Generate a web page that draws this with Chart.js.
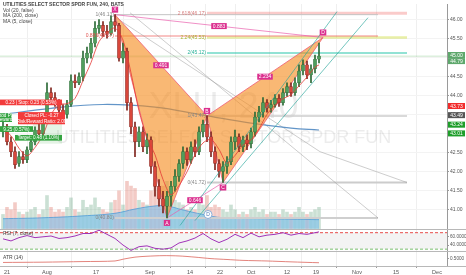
<!DOCTYPE html>
<html>
<head>
<meta charset="utf-8">
<script src="https://cdn.jsdelivr.net/npm/chart.js@4.4.0/dist/chart.umd.min.js"></script>
<style>
  html, body { margin: 0; padding: 0; background: #fff; }
  canvas { display: block; }
</style>
</head>
<body>
<canvas id="chart" width="466" height="275"></canvas>
<script>
// ---- data (bar index on x, one candle per index) ----
const opens = [43.05,43.18,42.79,42.53,42.22,42.40,42.32,42.58,42.79,43.10, 43.00,43.36,44.08,43.95,43.82,43.62,43.51,43.77,44.39,44.34,
  44.50,44.99,45.12,45.38,45.77,45.85,45.69,45.64,45.95,45.85, 44.99,45.17,43.82,43.18,42.79,43.05,42.66,42.84,42.14,41.62,
  41.29,41.10,41.36,41.62,41.88,42.22,42.53,42.32,42.66,42.53, 43.05,43.25,42.92,42.53,42.22,42.01,42.14,42.27,42.79,42.92,
  42.66,42.84,42.74,43.05,43.44,43.57,43.82,43.67,43.77,43.93, 43.82,44.08,44.24,44.08,44.34,44.65,44.81,44.55,44.71,44.96];
const highs = [43.31,43.25,42.92,42.66,42.53,42.53,42.66,42.89,43.18,43.31, 43.44,44.34,44.21,44.08,43.90,43.77,43.88,44.55,44.55,44.60,
  45.17,45.28,45.51,45.95,46.00,45.95,45.85,46.10,46.13,45.90, 45.38,45.25,43.95,43.31,43.18,43.18,43.00,42.92,42.27,41.80,
  41.49,41.49,41.75,42.06,42.32,42.66,42.63,42.79,42.84,43.18, 43.36,43.47,43.05,42.66,42.32,42.27,42.40,42.92,43.10,43.00,
  42.94,42.97,43.15,43.57,43.72,43.95,43.90,43.88,44.03,44.03, 44.19,44.34,44.34,44.47,44.81,44.94,44.91,44.81,45.07,45.38];
const lows = [42.92,42.71,42.40,42.09,42.14,42.22,42.24,42.53,42.71,42.89, 42.92,43.31,43.82,43.72,43.51,43.36,43.41,43.72,44.21,44.29,
  44.39,44.86,44.99,45.28,45.64,45.56,45.51,45.59,45.69,44.91, 44.86,43.62,43.00,42.40,42.66,42.53,42.48,41.96,41.36,41.10,
  40.92,40.79,41.10,41.49,41.75,42.09,42.17,42.22,42.40,42.45, 42.92,42.79,42.40,42.06,41.86,41.72,41.96,42.19,42.58,42.53,
  42.53,42.58,42.63,42.94,43.31,43.44,43.57,43.57,43.70,43.72, 43.75,43.98,43.98,44.01,44.24,44.55,44.45,44.34,44.60,44.86];
const closes = [43.18,42.79,42.53,42.19,42.40,42.32,42.58,42.79,43.10,43.00, 43.36,44.08,43.95,43.82,43.62,43.51,43.77,44.39,44.34,44.50,
  44.99,45.12,45.38,45.77,45.85,45.69,45.64,45.95,45.85,44.99, 45.17,43.82,43.18,42.79,43.05,42.66,42.84,42.14,41.62,41.29,
  41.10,41.36,41.62,41.88,42.22,42.53,42.32,42.66,42.53,43.05, 43.25,42.92,42.53,42.22,42.01,42.14,42.27,42.79,42.92,42.66,
  42.84,42.74,43.05,43.44,43.57,43.82,43.67,43.77,43.93,43.82, 44.08,44.24,44.08,44.34,44.65,44.81,44.55,44.71,44.96,45.04];
const volumes = [6,9,8,11,7,6,7,8,9,6, 8,14,9,7,8,7,9,13,8,7, 12,9,10,13,9,8,7,11,12,16,
  10,20,18,17,12,11,10,16,19,17, 18,20,14,12,11,10,8,9,8,11, 10,14,9,10,9,8,7,10,8,6,
  7,6,8,9,7,8,6,7,7,6, 8,7,6,7,9,7,6,7,8,9];

const sampleIdx = [0,2,4,6,8,10,12,14,16,18,20,22,24,26,28,30,32,34,36,38,40,42,44,46,48,50,52,54,56,58,60,62,64,66,68,70,72,74,76,78,79];
const ma5 = [43.10,42.95,42.62,42.42,42.64,42.97,43.50,43.77,43.79,43.93,44.40,44.87,45.42,45.65,45.78,45.46,44.60,43.60,42.90,42.45,
  41.80,41.40,41.64,42.00,42.45,42.76,42.85,42.59,42.23,42.43,42.70,42.84,43.13,43.51,43.75,43.92,44.03,44.26,44.49,44.75,44.81];
const rsi = [55,50,58,63,58,60,62,56,58,62,68,68,76,66,56,40,27,36,38,32,
  30,33,45,50,57,68,55,46,54,66,58,69,60,64,66,70,64,68,66,70,72];

const ma200Idx = [0,12,25,38,50,62,72,79];
const ma200 = [43.51,43.67,43.77,43.70,43.49,43.28,43.15,43.10];
const volMaIdx = [0,10,20,28,33,38,41,45,50,55,65,79];
const volMa = [4.2,4.6,5.4,6.5,8.3,9.6,9.6,7.9,6.0,4.6,4.2,3.8];
const atrIdx = [0,10,20,28,30,33,36,40,44,48,52,56,60,66,72,79];
const atr = [0.37,0.38,0.40,0.42,0.48,0.55,0.58,0.60,0.59,0.55,0.50,0.47,0.44,0.42,0.39,0.36];

// harmonic pattern X A B C D
const patNames = ['X','A','B','C','D'];
const patIdx = [28,41,51,55,80];
const patPrice = [46.13,40.79,43.47,41.72,45.53];
const ratioText = ['0.491','0.646','2.234','0.883'];
const ratioPairs = [[0,2],[1,3],[2,4],[0,4]];

// fib levels
const fibText = ['1(46.13)','0.886(45.57)','0(40.80)','2.618(46.17)','2.24(45.53)','2(45.12)','1(43.47)','0(41.72)'];
const fibPrice = [46.13,45.57,40.79,46.17,45.53,45.12,43.47,41.72];
const fibFrom = [28,28,28,51,51,51,51,51];
const fibTo = [93.75,93.75,93.75,101,101,101,101,101];

// trend lines (index, price)
const grayLineA = [[27.5,46.10],[79.25,42.53],[101,41.72]];
const grayLineB = [[31.75,46.18],[93.75,40.79]];
const channelA = [[44.25,40.59],[83.5,46.21]];
const channelB = [[48,40.72],[91.25,46.05]];
const lastPrice = 45.04;

// axes
const tickPos = [1,11,23.25,36.75,46.75,54.25,62,71,78.25,88.5,98.25,108.5];
const tickLabels = ['21','Aug','17','Sep','14','22','Oct','12','19','Nov','15','Dec'];
const priceTicks = [41,41.5,42,42.5,43,43.5,44,44.5,45,45.5,46];
const rsiTicks = [60,40];
const rsiBand = [70,30];
const atrTicks = [0.5];

const legend = ['UTILITIES SELECT SECTOR SPDR FUN, 240, BATS','Vol (20, false)','MA (200, close)','MA (5, close)'];
const watermark = ['XLU, 240','UTILITIES SELECT SECTOR SPDR FUN'];
const priceTags = [
  {v: 45.07, t: '45.00', bg: '#5ea86c'},
  {v: 44.91, t: '44.79', bg: '#5ea86c'},
  {v: 43.73, t: '43.73', bg: '#f22c2c'},
  {v: 43.49, t: '43.49', bg: '#555555'},
  {v: 43.24, t: '43.24', bg: '#1e9e2a'},
  {v: 43.01, t: '43.01', bg: '#1e9e2a'}
];
// risk/reward tool annotations: index range, price range
const tradeBoxes = [
  {x0: 7.5, x1: 14.75, p0: 43.36, p1: 42.74, bg: 'rgba(76,175,80,0.15)', lines: []},
  {x0: -0.75, x1: 14.75, p0: 43.90, p1: 43.75, bg: '#f23b3b', lines: ['0.23 | Stop: 0.23 (0.53%)']},
  {x0: -0.75, x1: 2.25, p0: 43.54, p1: 43.31, bg: '#35a541', lines: ['ood PL', 'eward']},
  {x0: 3.75, x1: 15.5, p0: 43.57, p1: 43.25, bg: '#f23b3b', lines: ['Closed PL: -0.27', 'Risk/Reward Ratio: 2.09']},
  {x0: -0.75, x1: 7.5, p0: 43.20, p1: 43.05, bg: '#35a541', lines: ['9.25 (0.57%)']},
  {x0: 3, x1: 14.75, p0: 42.97, p1: 42.82, bg: '#35a541', lines: ['Target: 0.48 (1.10%)']}
];

const xMin = -0.75, xMax = 111;
const FONT = '"Liberation Sans", Arial, sans-serif';
const PINK = '#db2f8e';

const upFill = '#4f9e5c', downFill = '#d9473b';
const upLine = '#2c6a37', downLine = '#80261f';

function line(pts, color, width, order, extra) {
  return Object.assign({
    type: 'line',
    data: pts.map(p => ({x: p[0], y: p[1]})),
    borderColor: color, borderWidth: width,
    pointRadius: 0, fill: false, tension: 0, order: order
  }, extra || {});
}
function pairs(xs, vs) {
  return xs.map((x, k) => [x, vs[k]]);
}

const isUp = closes.map((c, i) => c >= opens[i]);
const patPts = pairs(patIdx, patPrice);

const datasets = [
  line(channelA, 'rgba(38,166,154,0.8)', 0.8, 1),
  line(channelB, 'rgba(38,166,154,0.8)', 0.8, 1),
  line(pairs(sampleIdx, ma5), '#e53935', 0.8, 2, {tension: 0.3}),
  {
    type: 'bar', data: closes.map((c, i) => ({x: i, y: [opens[i], c]})),
    backgroundColor: isUp.map(u => u ? upFill : downFill),
    borderColor: isUp.map(u => u ? upLine : downLine),
    borderWidth: 0.5, borderSkipped: false, barThickness: 3, grouped: false, order: 3
  },
  {
    type: 'bar', data: closes.map((c, i) => ({x: i, y: [lows[i], highs[i]]})),
    backgroundColor: isUp.map(u => u ? upLine : downLine),
    barThickness: 1, grouped: false, order: 4
  },
  line([patPts[0], patPts[4]], 'rgba(233,90,170,0.75)', 0.9, 5),
  line([patPts[1], patPts[3]], 'rgba(233,90,170,0.75)', 0.9, 5),
  line([patPts[0], patPts[1], patPts[2], patPts[0]], 'rgba(236,84,110,0.85)', 0.9, 6,
    {fill: 'shape', backgroundColor: 'rgba(245,140,30,0.62)'}),
  line([patPts[2], patPts[3], patPts[4], patPts[2]], 'rgba(236,84,110,0.85)', 0.9, 6,
    {fill: 'shape', backgroundColor: 'rgba(245,140,30,0.62)'}),
  line(pairs(ma200Idx, ma200), 'rgba(70,130,190,0.85)', 1.2, 7, {tension: 0.4}),
  line(grayLineA, 'rgba(150,150,150,0.6)', 0.8, 8),
  line(grayLineB, 'rgba(150,150,150,0.6)', 0.8, 8),
  line([[xMin, lastPrice], [xMax, lastPrice]], 'rgba(102,187,106,0.35)', 1, 8),
  line(pairs(volMaIdx, volMa), 'rgba(70,150,215,0.9)', 0.8, 10,
    {yAxisID: 'yVol', fill: 'origin', backgroundColor: 'rgba(110,185,235,0.55)', tension: 0.4}),
  {
    type: 'bar', yAxisID: 'yVol', data: volumes.map((v, i) => ({x: i, y: v})),
    backgroundColor: isUp.map(u => u ? 'rgba(107,165,131,0.35)' : 'rgba(215,84,66,0.3)'),
    barThickness: 3, grouped: false, order: 11
  },
  line(pairs(sampleIdx, rsi), '#a133b8', 1, 12, {yAxisID: 'yRsi'}),
  line([[xMin, rsiBand[0]], [xMax, rsiBand[0]]], '#e53935', 0.9, 12, {yAxisID: 'yRsi', borderDash: [3, 2]}),
  line([[xMin, rsiBand[1]], [xMax, rsiBand[1]]], '#6dbb5f', 0.9, 12, {yAxisID: 'yRsi', borderDash: [3, 2]}),
  line(pairs(atrIdx, atr), '#e0766e', 0.9, 12, {yAxisID: 'yAtr', tension: 0.3})
];

// fib level lines
const fibColor = ['#c4c4c4','rgba(239,83,80,0.35)','#cfcfcf','rgba(239,83,80,0.3)','rgba(205,220,57,0.45)','rgba(38,198,170,0.5)','#cccccc','#cccccc'];
const fibWidth = [1,2,2,3,2.5,2,1.5,2];
const fibLabelColor = ['#888','#e0514e','#888','#d98080','#a9b32f','#2bb39a','#888','#888'];
fibPrice.forEach((p, k) => {
  datasets.push(line([[fibFrom[k], p], [fibTo[k], p]], fibColor[k], fibWidth[k], 9));
});

function tag(ctx, text, cx, cy, bg, fg) {
  ctx.font = '5px ' + FONT;
  const w = ctx.measureText(text).width + 3, h = 6;
  ctx.fillStyle = bg;
  ctx.fillRect(cx - w / 2, cy - h / 2, w, h);
  ctx.fillStyle = fg;
  ctx.textAlign = 'center';
  ctx.textBaseline = 'middle';
  ctx.fillText(text, cx, cy + 0.3);
}

const overlay = {
  id: 'overlay',
  beforeDatasetsDraw(chart) {
    const {ctx, chartArea: a, scales: {y, yRsi, yAtr}} = chart;
    ctx.save();
    const t = yRsi.getPixelForValue(rsiBand[0]), b = yRsi.getPixelForValue(rsiBand[1]);
    ctx.fillStyle = '#f3f3f3';
    ctx.fillRect(a.left, t, a.right - a.left, b - t);
    ctx.strokeStyle = '#b8b8b8';
    ctx.lineWidth = 1;
    [yRsi.top, yAtr.top, a.bottom].forEach(v => {
      ctx.beginPath();
      ctx.moveTo(0, Math.round(v) + 0.5);
      ctx.lineTo(chart.width, Math.round(v) + 0.5);
      ctx.stroke();
    });
    ctx.fillStyle = 'rgba(110,110,110,0.13)';
    ctx.textAlign = 'center';
    ctx.textBaseline = 'middle';
    const cx = (a.left + a.right) / 2;
    ctx.font = '36px ' + FONT;
    ctx.fillText(watermark[0], cx, y.top + 104);
    ctx.font = '18px ' + FONT;
    ctx.fillText(watermark[1], cx, y.top + 134);
    ctx.restore();
  },
  afterDatasetsDraw(chart) {
    const {ctx, scales: {x, y}} = chart;
    ctx.save();
    // fib labels
    ctx.font = '5px ' + FONT;
    ctx.textAlign = 'right';
    ctx.textBaseline = 'middle';
    fibText.forEach((s, k) => {
      ctx.fillStyle = fibLabelColor[k];
      ctx.fillText(s, x.getPixelForValue(fibFrom[k]) - 1, y.getPixelForValue(fibPrice[k]));
    });
    // ratio labels
    ratioPairs.forEach((pr, k) => {
      const mx = (x.getPixelForValue(patIdx[pr[0]]) + x.getPixelForValue(patIdx[pr[1]])) / 2;
      const my = (y.getPixelForValue(patPrice[pr[0]]) + y.getPixelForValue(patPrice[pr[1]])) / 2;
      tag(ctx, ratioText[k], mx, my, PINK, '#fff');
    });
    // pattern points
    const side = [-1, 1, -1, 1, -1];
    patNames.forEach((n, k) => {
      tag(ctx, n, x.getPixelForValue(patIdx[k]), y.getPixelForValue(patPrice[k]) + side[k] * 5, PINK, '#fff');
    });
    // dividend marker
    const dx = x.getPixelForValue(51.25), dy = y.getPixelForValue(40.88);
    ctx.beginPath();
    ctx.arc(dx, dy, 4, 0, Math.PI * 2);
    ctx.fillStyle = '#fff';
    ctx.fill();
    ctx.strokeStyle = '#6f9fd4';
    ctx.lineWidth = 0.8;
    ctx.stroke();
    ctx.fillStyle = '#4a7ab5';
    ctx.font = '5px ' + FONT;
    ctx.textAlign = 'center';
    ctx.fillText('D', dx, dy + 0.3);
    // risk/reward boxes
    tradeBoxes.forEach(bx => {
      const x0 = x.getPixelForValue(bx.x0), x1 = x.getPixelForValue(bx.x1);
      const y0 = y.getPixelForValue(bx.p0), y1 = y.getPixelForValue(bx.p1);
      ctx.fillStyle = bx.bg;
      ctx.fillRect(x0, y0, x1 - x0, y1 - y0);
      ctx.fillStyle = '#fff';
      ctx.font = '4.6px ' + FONT;
      ctx.textAlign = 'center';
      const step = (y1 - y0) / Math.max(bx.lines.length, 1);
      bx.lines.forEach((s, k) => ctx.fillText(s, (x0 + x1) / 2, y0 + step * (k + 0.5) + 0.3));
    });
    // legends
    ctx.textAlign = 'left';
    ctx.fillStyle = '#444';
    ctx.font = 'bold 5px ' + FONT;
    ctx.fillText(legend[0], 3, 5);
    ctx.font = '5px ' + FONT;
    [10.5, 16, 22].forEach((ry, k) => ctx.fillText(legend[k + 1], 3, ry));
    ctx.fillText('RSI (7, close)', 3, chart.scales.yRsi.top + 5);
    ctx.fillText('ATR (14)', 3, chart.scales.yAtr.top + 6);
    ctx.restore();
  },
  afterDraw(chart) {
    const {ctx, chartArea: a, scales: {y}} = chart;
    ctx.save();
    ctx.font = '5px ' + FONT;
    priceTags.forEach(pt => {
      const py = y.getPixelForValue(pt.v);
      ctx.fillStyle = pt.bg;
      ctx.fillRect(a.right + 1, py - 3, 17, 6);
      ctx.fillStyle = '#fff';
      ctx.textAlign = 'center';
      ctx.textBaseline = 'middle';
      ctx.fillText(pt.t, a.right + 9.5, py + 0.3);
    });
    ctx.restore();
  }
};

function rightAxis(extra) {
  return Object.assign({
    type: 'linear', position: 'right', stack: 'pane',
    border: {color: '#9a9a9a'},
    grid: {drawOnChartArea: false, tickLength: 2, tickColor: '#999'},
    ticks: {color: '#555', font: {size: 5}, padding: 1},
    afterFit: s => { s.width = 19; }
  }, extra);
}

new Chart(document.getElementById('chart'), {
  type: 'bar',
  data: {datasets: datasets},
  options: {
    responsive: false,
    devicePixelRatio: 1,
    animation: false,
    events: [],
    layout: {padding: 0},
    plugins: {legend: {display: false}, tooltip: {enabled: false}},
    scales: {
      x: {
        type: 'linear', min: xMin, max: xMax, offset: false,
        afterBuildTicks: s => { s.ticks = tickPos.map(v => ({value: v})); },
        ticks: {
          autoSkip: false, maxRotation: 0, color: '#555', font: {size: 5.5}, padding: 1,
          callback: (v, i) => tickLabels[i]
        },
        grid: {color: '#efefef', tickLength: 2, tickColor: '#999'},
        border: {color: '#9a9a9a'},
        afterFit: s => { s.height = 9; }
      },
      y: rightAxis({
        stackWeight: 228, min: 40.51, max: 46.41,
        afterBuildTicks: s => { s.ticks = priceTicks.map(v => ({value: v})); },
        ticks: {color: '#555', font: {size: 5}, padding: 1, callback: v => v.toFixed(2)},
        grid: {color: '#f3f3f3', tickLength: 2, tickColor: '#999'}
      }),
      yRsi: rightAxis({
        stackWeight: 23, min: 25, max: 80,
        afterBuildTicks: s => { s.ticks = rsiTicks.map(v => ({value: v})); },
        ticks: {color: '#555', font: {size: 4.6}, padding: 1, callback: v => v.toFixed(4)}
      }),
      yAtr: rightAxis({
        stackWeight: 15, min: 0.25, max: 0.75,
        afterBuildTicks: s => { s.ticks = atrTicks.map(v => ({value: v})); },
        ticks: {color: '#555', font: {size: 4.6}, padding: 1, callback: v => v.toFixed(4)}
      }),
      yVol: {type: 'linear', display: false, min: -15.8, max: 95}
    }
  },
  plugins: [overlay]
});
</script>
</body>
</html>
